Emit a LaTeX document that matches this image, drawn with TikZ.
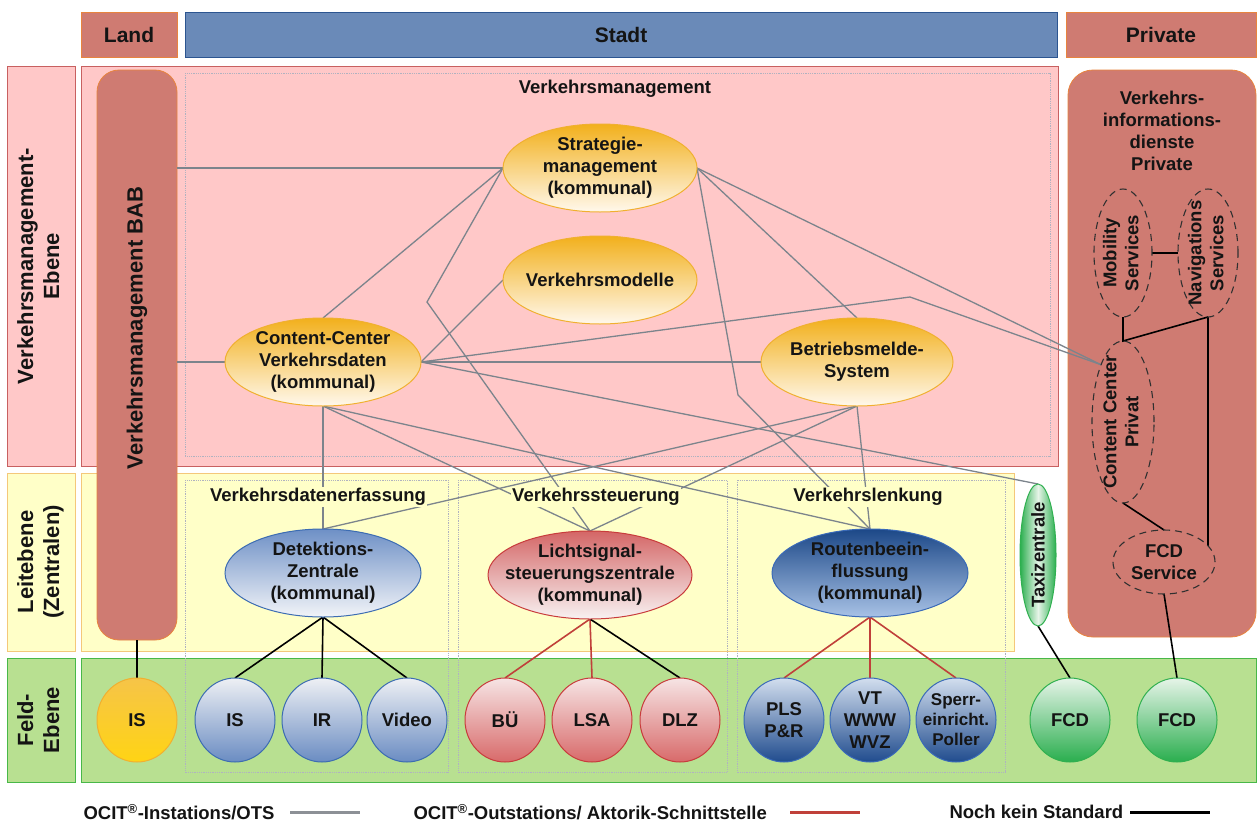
\documentclass[tikz,border=0pt]{standalone}
\usepackage{fontspec}
\setmainfont{Liberation Sans}
\usepackage{graphicx}
\usetikzlibrary{shapes.geometric,calc}
\definecolor{pinkbg}{HTML}{FFC8C8}
\definecolor{pinkedge}{HTML}{C86060}
\definecolor{yelbg}{HTML}{FFFFC8}
\definecolor{yeledge}{HTML}{F4C87A}
\definecolor{grnbg}{HTML}{B8E091}
\definecolor{grnedge}{HTML}{48B848}
\definecolor{salmon}{HTML}{CF7B72}
\definecolor{salmonedge}{HTML}{E8843E}
\definecolor{hblue}{HTML}{6A8AB8}
\definecolor{hblueedge}{HTML}{2C5590}
\definecolor{framec}{HTML}{B0B2C0}
\definecolor{conn}{HTML}{7C848C}
\definecolor{legg}{HTML}{8C9096}
\definecolor{redc}{HTML}{C0403A}
\definecolor{txtc}{HTML}{141414}
\definecolor{ytop}{HTML}{F2B01C}
\definecolor{ybot}{HTML}{FFF8EC}
\definecolor{yedge}{HTML}{F0B030}
\definecolor{btop}{HTML}{6E90C6}
\definecolor{bbot}{HTML}{F2F4F8}
\definecolor{bedge}{HTML}{3C6CB2}
\definecolor{rtop}{HTML}{D46666}
\definecolor{rbot}{HTML}{F8F2F2}
\definecolor{redge}{HTML}{C83C3C}
\definecolor{dbtop}{HTML}{1C4888}
\definecolor{dbbot}{HTML}{A8C2E6}
\definecolor{dbedge}{HTML}{3A6AB8}
\definecolor{fbtop}{HTML}{EEF0F4}
\definecolor{fbbot}{HTML}{6A8CC2}
\definecolor{frtop}{HTML}{F6E4E4}
\definecolor{frbot}{HTML}{D86A6A}
\definecolor{fdtop}{HTML}{D2DEEE}
\definecolor{fdbot}{HTML}{204C8E}
\definecolor{fgtop}{HTML}{E6F4E8}
\definecolor{fgbot}{HTML}{2AAE4E}
\definecolor{fgedge}{HTML}{30B050}
\definecolor{istop}{HTML}{F6C448}
\definecolor{ismid}{HTML}{FFF4D8}
\definecolor{isbot}{HTML}{FFD414}
\definecolor{dashc}{HTML}{303030}

\pgfdeclarelayer{bg}
\pgfdeclarelayer{ln}
\pgfsetlayers{bg,ln,main}

\begin{document}
\begin{tikzpicture}[x=1pt,y=-1pt,
  txt/.style={font=\fontsize{18.5}{22}\selectfont\bfseries, text=txtc, align=center},
  hdr/.style={font=\fontsize{21}{25}\selectfont\bfseries, text=txtc},
  side/.style={font=\fontsize{22}{26}\selectfont\bfseries, text=txtc, inner sep=0pt},
  box/.style={rectangle, inner sep=0pt, outer sep=0pt, line width=0.8pt},
  frame/.style={draw=framec, line width=0.8pt, densely dotted},
  el/.style={ellipse, inner sep=-20pt, outer sep=0pt, txt, line width=1pt},
  mainel/.style={el, minimum width=196, minimum height=88},
  fld/.style={el, minimum width=80, minimum height=84},
  orel/.style={top color=ytop, bottom color=ybot, draw=yedge},
  blel/.style={top color=btop, bottom color=bbot, draw=bedge},
  rdel/.style={top color=rtop, bottom color=rbot, draw=redge},
  dbel/.style={top color=dbtop, bottom color=dbbot, draw=dbedge},
  fbl/.style={top color=fbtop, bottom color=fbbot, draw=bedge},
  frd/.style={top color=frtop, bottom color=frbot, draw=redge},
  fdb/.style={top color=fdtop, bottom color=fdbot, draw=dbedge},
  fgr/.style={top color=fgtop, bottom color=fgbot, draw=fgedge},
  dsh/.style={el, draw=dashc, dash pattern=on 7pt off 5pt, line width=1.1pt},
  sect/.style={txt, fill=yelbg, inner sep=1.5pt},
  gl/.style={draw=conn, line width=1.3pt},
  rl/.style={draw=redc, line width=1.6pt},
  bl/.style={draw=black, line width=1.6pt},
]
\useasboundingbox (0,0) rectangle (1258,822);

\begin{pgfonlayer}{bg}
\fill[white] (0,0) rectangle (1258,822);
% header
\node[box, fill=salmon, draw=salmonedge, minimum width=96, minimum height=45, hdr] (landh) at (129,34.5) {Land};
\node[box, fill=hblue, draw=hblueedge, minimum width=872, minimum height=45, hdr] (stadth) at (621,34.5) {Stadt};
\node[box, fill=salmon, draw=salmonedge, minimum width=190, minimum height=45, hdr] (privh) at (1161,34.5) {Private};
% left labels
\node[box, fill=pinkbg, draw=pinkedge, minimum width=68, minimum height=400, side] (lvm) at (41,266)
  {\rotatebox{90}{\begin{tabular}{@{}c@{}}Verkehrsmanagement-\\Ebene\end{tabular}}};
\node[box, fill=yelbg, draw=yeledge, minimum width=68, minimum height=178, side] (lle) at (41,562)
  {\rotatebox{90}{\begin{tabular}{@{}c@{}}Leitebene\\(Zentralen)\end{tabular}}};
\node[box, fill=grnbg, draw=grnedge, minimum width=68, minimum height=124, side] (lfe) at (41,720)
  {\rotatebox{90}{\begin{tabular}{@{}c@{}}Feld-\\Ebene\end{tabular}}};
% bands
\node[box, fill=pinkbg, draw=pinkedge, minimum width=977, minimum height=400] (bandvm) at (569.5,266) {};
\node[box, fill=yelbg, draw=yeledge, minimum width=933, minimum height=178] (bandle) at (547.5,562) {};
\node[box, fill=grnbg, draw=grnedge, minimum width=1175, minimum height=124] (bandfe) at (668.5,720) {};
% private box and BAB bar
\node[box, fill=salmon, draw=salmonedge, rounded corners=25, minimum width=188, minimum height=567] (privbox) at (1162,353.5) {};
\node[box, fill=salmon, draw=salmonedge, rounded corners=22, minimum width=80, minimum height=570] (bab) at (137,355) {};
\node[side, rotate=90] (babtxt) at (137,328) {Verkehrsmanagement BAB};
% frames
\draw[frame] (185,73) rectangle (1050,456);
\draw[frame] (185,480) rectangle (448,772);
\draw[frame] (458,480) rectangle (727,772);
\draw[frame] (737,480) rectangle (1005,772);
\end{pgfonlayer}

% labels
\node[txt] (vmlab) at (615,89) {Verkehrsmanagement};
\node[txt] (privlab) at (1162,131) {Verkehrs-\\informations-\\dienste\\Private};

% main ellipses
\node[mainel, orel, minimum width=194] (strat) at (600,168) {Strategie-\\management\\(kommunal)};
\node[mainel, orel, minimum width=194] (vmod) at (600,280) {Verkehrsmodelle};
\node[mainel, orel] (ccv) at (323,362) {Content-Center\\Verkehrsdaten\\(kommunal)};
\node[mainel, orel, minimum width=192] (bms) at (857,362) {Betriebsmelde-\\System};
\node[mainel, blel] (dz) at (323,573) {Detektions-\\Zentrale\\(kommunal)};
\node[mainel, rdel, minimum width=204] (lsz) at (590,575) {Lichtsignal-\\steuerungszentrale\\(kommunal)};
\node[mainel, dbel] (rb) at (870,573) {Routenbeein-\\flussung\\(kommunal)};
\node[el, left color=fgbot, right color=fgbot, middle color=fgtop, draw=fgedge, minimum width=36, minimum height=142] (taxi) at (1038,555) {\rotatebox{90}{Taxizentrale}};

% private dashed ellipses
\node[dsh, minimum width=58, minimum height=128] (mob) at (1123,253)
  {\rotatebox{90}{\begin{tabular}{@{}c@{}}Mobility\\Services\end{tabular}}};
\node[dsh, minimum width=60, minimum height=128] (nav) at (1208,253)
  {\rotatebox{90}{\begin{tabular}{@{}c@{}}Navigations\\Services\end{tabular}}};
\node[dsh, minimum width=62, minimum height=162] (ccp) at (1123,422)
  {\rotatebox{90}{\begin{tabular}{@{}c@{}}Content Center\\Privat\end{tabular}}};
\node[dsh, minimum width=102, minimum height=64] (fcds) at (1164,562) {FCD\\Service};

% field nodes
\node[fld, top color=istop, middle color=ismid, bottom color=isbot, draw=yedge] (is0) at (137,720) {IS};
\node[fld, fbl] (is) at (235,720) {IS};
\node[fld, fbl] (ir) at (322,720) {IR};
\node[fld, fbl] (video) at (407,720) {Video};
\node[fld, frd] (bue) at (505,720) {BÜ};
\node[fld, frd] (lsa) at (592,720) {LSA};
\node[fld, frd] (dlz) at (680,720) {DLZ};
\node[fld, fdb] (pls) at (784,720) {PLS\\P\&R};
\node[fld, fdb] (vt) at (870,720) {VT\\WWW\\WVZ};
\node[fld, fdb, font=\fontsize{17}{20}\selectfont\bfseries] (sperr) at (956,720) {Sperr-\\einricht.\\Poller};
\node[fld, fgr] (fcd1) at (1070,720) {FCD};
\node[fld, fgr] (fcd2) at (1177,720) {FCD};

% section labels (cover lines)
\node[sect] (s1) at (318,497) {Verkehrsdatenerfassung};
\node[sect] (s2) at (596,497) {Verkehrssteuerung};
\node[sect] (s3) at (868,497) {Verkehrslenkung};

% bend points
\coordinate (b1) at (427,302);
\coordinate (b2) at (910,297);
\coordinate (b3) at (738,395);

\begin{pgfonlayer}{ln}
% OCIT instations (gray)
\draw[gl] (bab.east |- strat.west) -- (strat.west);
\draw[gl] (bab.east |- ccv.west) -- (ccv.west);
\draw[gl] (strat.west) -- (ccv.north);
\draw[gl] (strat.west) -- (b1) -- (lsz.north);
\draw[gl] (ccv.east) -- (vmod.west);
\draw[gl] (ccv.east) -- (bms.west);
\draw[gl] (ccv.east) -- (b2) -- (ccp.north west);
\draw[gl] (ccv.east) -- (taxi.north);
\draw[gl] (ccv.south) -- (dz.north);
\draw[gl] (ccv.south) -- (lsz.north);
\draw[gl] (ccv.south) -- (rb.north);
\draw[gl] (bms.south) -- (dz.north);
\draw[gl] (bms.south) -- (lsz.north);
\draw[gl] (bms.south) -- (rb.north);
\draw[gl] (strat.east) -- (b3) -- (rb.north);
\draw[gl] (strat.east) -- (bms.north);
\draw[gl] (strat.east) -- (ccp.north west);
% outstations (red) and no standard (black)
\draw[bl] (bab.south) -- (is0.north);
\draw[bl] (dz.south) -- (is.north);
\draw[bl] (dz.south) -- (ir.north);
\draw[bl] (dz.south) -- (video.north);
\draw[rl] (lsz.south) -- (bue.north);
\draw[rl] (lsz.south) -- (lsa.north);
\draw[bl] (lsz.south) -- (dlz.north);
\draw[rl] (rb.south) -- (pls.north);
\draw[rl] (rb.south) -- (vt.north);
\draw[rl] (rb.south) -- (sperr.north);
\draw[bl] (taxi.south) -- (fcd1.north);
\draw[bl] (fcds.south) -- (fcd2.north);
\draw[bl] (mob.east) -- (nav.west);
\draw[bl] (mob.south) -- (ccp.north) -- (nav.south);
\draw[bl] (nav.south) -- (nav.south |- fcds.20);
\draw[bl] (ccp.south) -- (fcds.north);
\end{pgfonlayer}

% legend
\node[txt, anchor=west] (leg1) at (80,812) {OCIT\textsuperscript{®}-Instations/OTS};
\coordinate (g1a) at (290,812); \coordinate (g1b) at (360,812);
\draw[draw=legg, line width=3pt] (g1a) -- (g1b);
\node[txt, anchor=west] (leg2) at (410,812) {OCIT\textsuperscript{®}-Outstations/ Aktorik-Schnittstelle};
\coordinate (g2a) at (790,812); \coordinate (g2b) at (860,812);
\draw[draw=redc, line width=3pt] (g2a) -- (g2b);
\node[txt, anchor=west] (leg3) at (946,812) {Noch kein Standard};
\coordinate (g3a) at (1130,812); \coordinate (g3b) at (1210,812);
\draw[draw=black, line width=3pt] (g3a) -- (g3b);
\end{tikzpicture}
\end{document}
